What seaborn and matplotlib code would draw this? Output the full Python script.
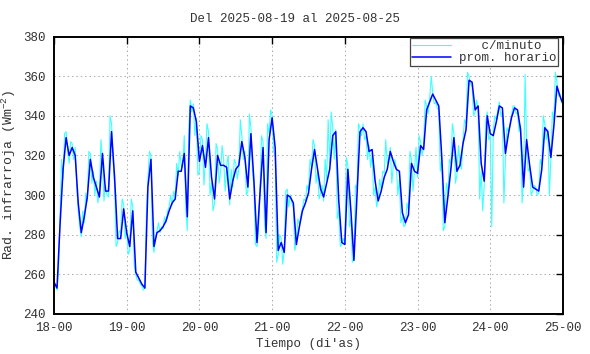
import pandas as pd
import matplotlib
matplotlib.use("Agg")
import matplotlib.pyplot as plt
import matplotlib.dates as mdates
import seaborn as sns

# --- data ---
start = "2025-08-18 00:00"

# hourly mean (prom. horario), one value per hour, 18-00 .. 25-00
hourly_vals = [
    256, 253, 285, 313, 329, 320, 324, 320, 296, 281, 289, 299,
    318, 309, 304, 299, 321, 302, 302, 332, 309, 278, 278, 293,
    281, 274, 292, 261, 258, 255, 253, 304, 318, 274, 281, 282,
    284, 287, 292, 296, 298, 312, 312, 321, 289, 345, 344, 337,
    317, 325, 314, 329, 309, 298, 320, 315, 315, 314, 298, 307,
    313, 315, 327, 319, 304, 331, 307, 276, 301, 324, 281, 328,
    339, 324, 272, 276, 271, 300, 299, 296, 275, 284, 292, 296,
    301, 313, 323, 313, 303, 299, 306, 313, 330, 332, 297, 276,
    275, 313, 292, 267, 299, 332, 334, 332, 322, 323, 307, 297,
    302, 309, 313, 322, 317, 313, 312, 291, 286, 290, 316, 312,
    311, 325, 323, 343, 347, 351, 348, 345, 319, 286, 299, 313,
    329, 312, 315, 326, 333, 358, 357, 343, 345, 316, 307, 340,
    331, 330, 337, 345, 344, 321, 331, 339, 344, 343, 333, 304,
    328, 315, 304, 303, 302, 313, 334, 332, 319, 335, 355, 350,
    346,
]

minute_vals = [
    # 18
    257, 254, 252, 262, 290, 318, 308, 331, 332, 322, 316, 327,
    326, 318, 324, 305, 292, 284, 279, 292, 286, 301, 297, 322,
    321, 306, 312, 300, 307, 296, 302, 328, 318, 297, 305, 300,
    299, 340, 336, 318, 305, 274, 276, 282, 281, 298, 295, 278,
    # 19
    283, 270, 272, 298, 294, 264, 260, 257, 257, 255, 254, 252,
    253, 290, 308, 322, 320, 276, 271, 279, 282, 286, 281, 284,
    283, 289, 286, 292, 294, 300, 295, 302, 299, 316, 310, 322,
    315, 314, 330, 293, 282, 335, 348, 342, 346, 330, 339, 310,
    # 20
    312, 330, 328, 305, 318, 336, 332, 300, 306, 292, 296, 326,
    323, 306, 312, 325, 318, 302, 315, 320, 295, 313, 304, 318,
    316, 308, 313, 338, 330, 318, 322, 300, 302, 341, 334, 312,
    304, 275, 274, 282, 303, 330, 327, 285, 278, 336, 331, 343,
    # 21
    340, 322, 320, 266, 270, 280, 278, 265, 272, 302, 303, 294,
    300, 296, 294, 272, 276, 288, 285, 290, 293, 298, 297, 305,
    302, 318, 314, 328, 325, 306, 312, 298, 301, 305, 297, 318,
    308, 338, 316, 342, 334, 318, 333, 288, 292, 274, 275, 278,
    # 22
    276, 319, 315, 284, 288, 266, 268, 305, 303, 336, 334, 330,
    336, 328, 330, 318, 325, 314, 321, 300, 304, 294, 298, 308,
    303, 312, 311, 328, 316, 318, 324, 306, 315, 318, 314, 300,
    308, 286, 289, 284, 285, 296, 292, 322, 318, 302, 313, 324,
    # 23
    309, 330, 327, 320, 325, 348, 345, 341, 349, 360, 352, 346,
    347, 344, 343, 312, 318, 282, 284, 306, 301, 318, 316, 336,
    331, 306, 310, 325, 317, 313, 328, 338, 336, 362, 360, 356,
    355, 340, 342, 348, 343, 298, 312, 292, 305, 337, 342, 328,
    # 24
    330, 284, 333, 340, 338, 343, 347, 340, 342, 296, 318, 334,
    332, 336, 340, 345, 345, 341, 342, 332, 335, 296, 308, 361,
    326, 312, 314, 300, 302, 305, 304, 300, 301, 318, 315, 340,
    336, 328, 333, 300, 318, 342, 338, 362, 357, 350, 351, 347,
    346,
]

title = "Del 2025-08-19 al 2025-08-25"
xlabel = "Tiempo (di'as)"
ylabel = "Rad. infrarroja (Wm$^{-2}$)"
legend_labels = ["   c/minuto", "prom. horario"]

hourly_df = pd.DataFrame({
    "t": pd.date_range(start, periods=len(hourly_vals), freq="h"),
    "v": hourly_vals,
})
minute_df = pd.DataFrame({
    "t": pd.date_range(start, periods=len(minute_vals), freq="30min"),
    "v": minute_vals,
})

sns.set_style("white")
plt.rcParams["font.family"] = ["Liberation Mono", "DejaVu Sans Mono"]
plt.rcParams["mathtext.default"] = "regular"

txt = "#333333"

fig = plt.figure(figsize=(5.9, 3.54), dpi=100)
ax = fig.add_axes([0.0915, 0.1136, 0.8627, 0.7828])

sns.lineplot(data=minute_df, x="t", y="v", color="#40ffff", lw=0.8,
             label=legend_labels[0], ax=ax)
sns.lineplot(data=hourly_df, x="t", y="v", color="#0000ff", lw=1.1,
             label=legend_labels[1], ax=ax)

ax.set_xlim(pd.Timestamp("2025-08-18"), pd.Timestamp("2025-08-25"))
ax.set_ylim(240, 380)
ax.xaxis.set_major_locator(mdates.DayLocator())
ax.xaxis.set_major_formatter(mdates.DateFormatter("%d-%H"))
ax.set_yticks(range(240, 381, 20))

ax.tick_params(direction="in", top=True, right=True, length=5, width=1,
               labelsize=9, colors=txt, pad=6)
ax.tick_params(colors="black", which="both", labelcolor=txt)
ax.grid(True, ls=(0, (1.5, 3)), color="#aaaaaa", lw=0.7)
for sp in ax.spines.values():
    sp.set_color("black")
    sp.set_linewidth(1.4)

ax.set_xlabel(xlabel, fontsize=9, color=txt, labelpad=3)
ax.set_ylabel(ylabel, fontsize=9.5, color=txt, labelpad=4)
fig.suptitle(title, fontsize=9, color=txt, y=0.962)

leg = ax.legend(loc="upper right", bbox_to_anchor=(0.99, 0.995), borderaxespad=0,
                fancybox=False, framealpha=1, edgecolor="#444444", fontsize=9,
                handlelength=3.1, handletextpad=0.6, labelspacing=0.0,
                borderpad=0.15)
leg.get_frame().set_linewidth(0.9)
for t in leg.get_texts():
    t.set_color(txt)

fig.savefig("out.png", dpi=100)
